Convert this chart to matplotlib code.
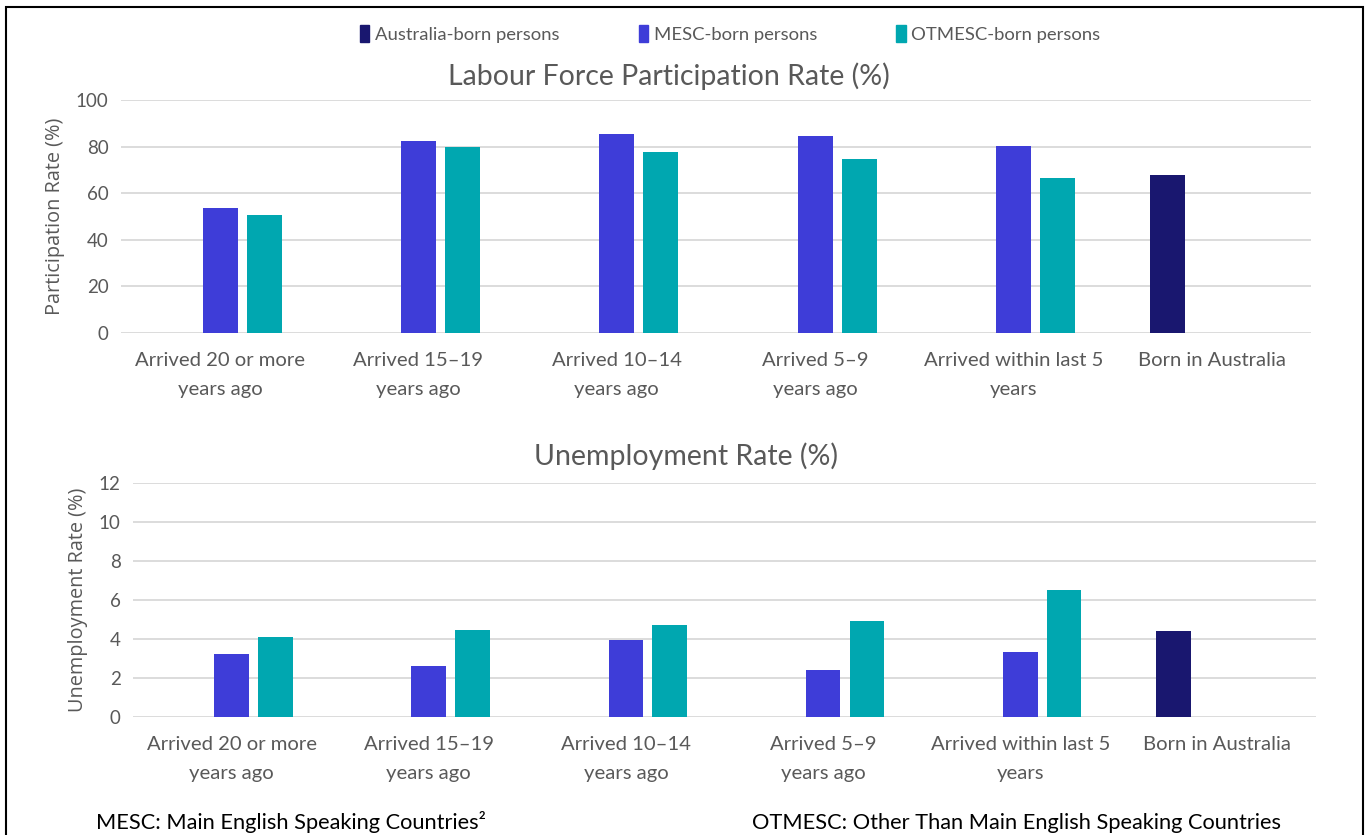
import matplotlib.pyplot as plt
from matplotlib.patches import Rectangle

categories = ["Arrived 20 or more\nyears ago", "Arrived 15\u201319\nyears ago",
              "Arrived 10\u201314\nyears ago", "Arrived 5\u20139\nyears ago",
              "Arrived within last 5\nyears", "Born in Australia"]
series = ["Australia-born persons", "MESC-born persons", "OTMESC-born persons"]
colors = ["#19176F", "#3E3DD8", "#00A7B0"]

# participation rate (%), None where the group has no bar
part_aus = [None, None, None, None, None, 67.8]
part_mesc = [53.6, 82.3, 85.4, 84.4, 80.4, None]
part_otmesc = [50.7, 80.0, 77.6, 74.7, 66.4, None]

# unemployment rate (%)
unemp_aus = [None, None, None, None, None, 4.40]
unemp_mesc = [3.21, 2.61, 3.96, 2.41, 3.31, None]
unemp_otmesc = [4.11, 4.45, 4.71, 4.90, 6.50, None]

label_font = "Lato"
axis_font = "Open Sans"
grey = "#595959"

fig = plt.figure(figsize=(13.7, 8.35), dpi=100)


def draw_panel(ax, data, ymax, ystep, ylabel):
    offsets = [-0.222, 0.0, 0.222]
    width = 0.176
    for vals, off, col in zip(data, offsets, colors):
        xs = [i + off for i, v in enumerate(vals) if v is not None]
        ys = [v for v in vals if v is not None]
        ax.bar(xs, ys, width=width, color=col, zorder=3)
    ax.set_xlim(-0.5, len(categories) - 0.5)
    ax.set_ylim(0, ymax)
    ax.set_yticks(range(0, ymax + 1, ystep))
    ax.set_xticks(range(len(categories)))
    ax.set_xticklabels(categories, fontfamily=label_font, fontsize=14.6,
                       color=grey, linespacing=1.8)
    for t in ax.get_yticklabels():
        t.set_fontfamily(label_font)
        t.set_fontsize(13.5)
        t.set_color(grey)
    ax.tick_params(length=0, pad=9)
    ax.tick_params(axis="x", pad=14)
    ax.grid(axis="y", color="#D9D9D9", linewidth=1.3, zorder=0)
    for s in ax.spines.values():
        s.set_visible(False)
    ax.set_ylabel(ylabel, fontfamily=axis_font, fontsize=14.3, color=grey,
                  labelpad=8)


ax1 = fig.add_axes([0.0883, 0.6012, 0.8686, 0.279])
draw_panel(ax1, [part_aus, part_mesc, part_otmesc], 100, 20,
           "Participation Rate (%)")

ax2 = fig.add_axes([0.0971, 0.1413, 0.8635, 0.2806])
draw_panel(ax2, [unemp_aus, unemp_mesc, unemp_otmesc], 12, 2,
           "Unemployment Rate (%)")

# panel titles
fig.text(669 / 1370, 1 - 76 / 835, "Labour Force Participation Rate (%)",
         ha="center", va="center", fontfamily=label_font, fontsize=20.5,
         color=grey)
fig.text(686 / 1370, 1 - 456 / 835, "Unemployment Rate (%)",
         ha="center", va="center", fontfamily=label_font, fontsize=20.5,
         color=grey)

# legend across the top
handles = [Rectangle((0, 0), 1, 1, color=c) for c in colors]
fig.legend(handles, series, loc="center", bbox_to_anchor=(0.533, 0.959),
           ncol=3, frameon=False, handlelength=0.5, handleheight=1.0,
           handletextpad=0.3, columnspacing=4.3,
           prop={"family": label_font, "size": 13.3}, labelcolor=grey)

fig.text(96 / 1370, 0.007, "MESC: Main English Speaking Countries\u00b2",
         va="baseline", fontfamily=label_font, fontsize=15.7, color="black")
fig.text(752 / 1370, 0.007, "OTMESC: Other Than Main English Speaking Countries",
         va="baseline", fontfamily=label_font, fontsize=15.7, color="black")

# page frame
fig.add_artist(Rectangle((6 / 1370, -0.1), 1357 / 1370, 1.1 - 7 / 835,
                         transform=fig.transFigure, fill=False,
                         edgecolor="black", linewidth=1.5))

fig.savefig("out.png", dpi=100)
